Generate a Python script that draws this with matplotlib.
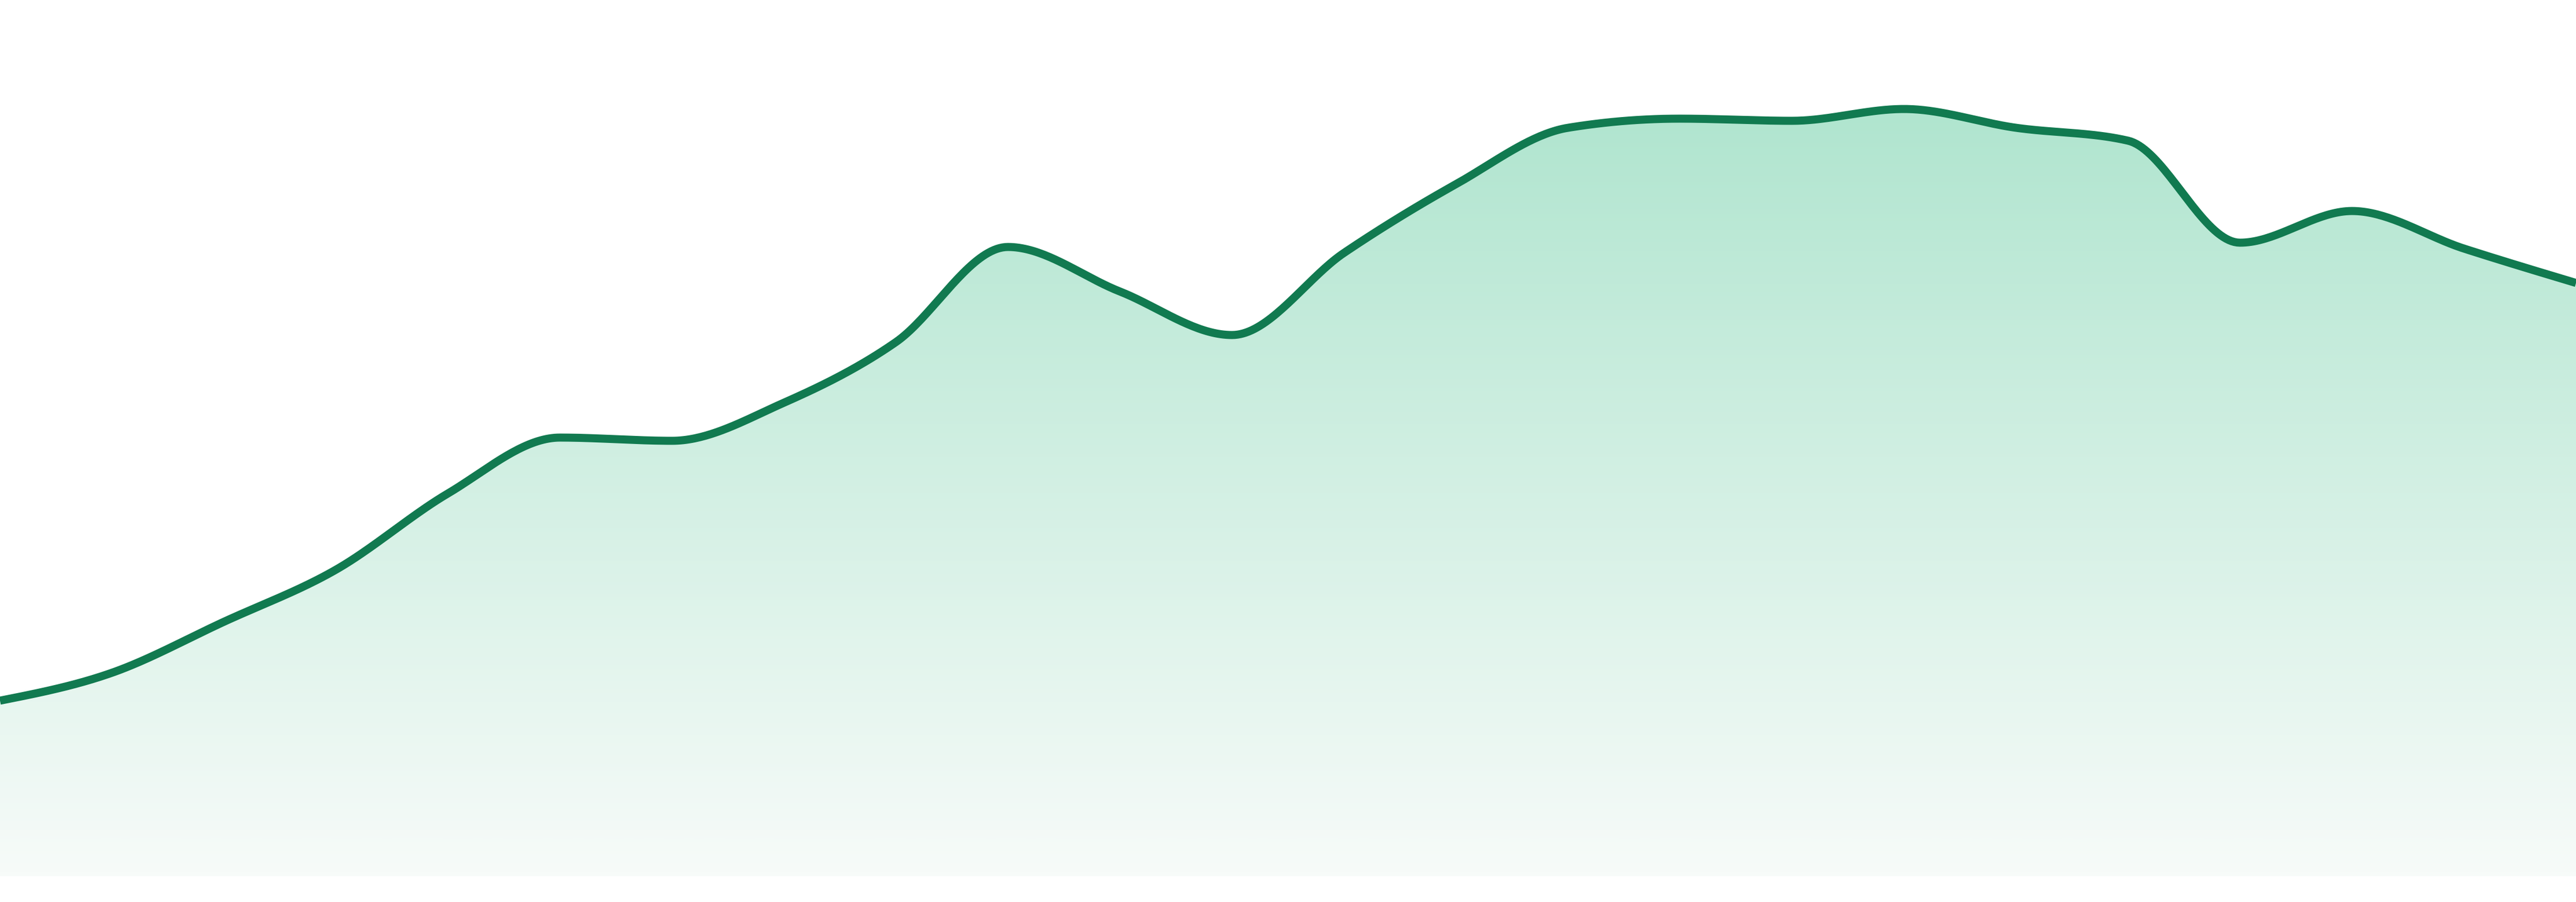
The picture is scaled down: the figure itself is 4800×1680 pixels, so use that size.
import matplotlib
matplotlib.use("Agg")
import matplotlib.pyplot as plt
import numpy as np
from matplotlib.colors import LinearSegmentedColormap
from matplotlib.patches import PathPatch
from matplotlib.path import Path

# values (0 = baseline of the area)
x_idx = np.arange(24)
values = [327, 379, 474, 571, 713, 817, 811, 882, 995, 1172, 1089, 1008,
          1161, 1289, 1394, 1411, 1407, 1429, 1394, 1370, 1180, 1239, 1169, 1105]

LINE_COLOR = "#117a50"
TOP_COLOR = "#b0e5cf"
BOTTOM_COLOR = "#f7fbf9"


def monotone_x(x, y, n=40):
    """d3.curveMonotoneX style smoothing, returns dense points"""
    x = np.asarray(x, float)
    y = np.asarray(y, float)
    h = np.diff(x)
    s = np.diff(y) / h
    t = np.zeros_like(y)
    for i in range(1, len(y) - 1):
        s0, s1 = s[i - 1], s[i]
        p = (s0 * h[i] + s1 * h[i - 1]) / (h[i - 1] + h[i])
        t[i] = (np.sign(s0) + np.sign(s1)) * min(abs(s0), abs(s1), 0.5 * abs(p))
    t[0] = (3 * s[0] - t[1]) / 2
    t[-1] = (3 * s[-1] - t[-2]) / 2
    xs, ys = [], []
    u = np.linspace(0, 1, n, endpoint=False)
    for i in range(len(x) - 1):
        dx = h[i] / 3
        p0 = np.array([x[i], y[i]])
        p1 = np.array([x[i] + dx, y[i] + dx * t[i]])
        p2 = np.array([x[i + 1] - dx, y[i + 1] - dx * t[i + 1]])
        p3 = np.array([x[i + 1], y[i + 1]])
        b = ((1 - u) ** 3)[:, None] * p0 + (3 * (1 - u) ** 2 * u)[:, None] * p1 \
            + (3 * (1 - u) * u ** 2)[:, None] * p2 + (u ** 3)[:, None] * p3
        xs.append(b[:, 0])
        ys.append(b[:, 1])
    xs.append([x[-1]])
    ys.append([y[-1]])
    return np.concatenate(xs), np.concatenate(ys)


fig = plt.figure(figsize=(16, 5.6), dpi=300)
ax = fig.add_axes([0, 0, 1, 1])
ax.set_xlim(0, 23)
ax.set_ylim(-48, 1632)
ax.axis("off")

sx, sy = monotone_x(x_idx, values)

# gradient area under the line
verts = np.column_stack([np.r_[sx, sx[-1], sx[0]], np.r_[sy, 0, 0]])
clip = PathPatch(Path(verts), facecolor="none", edgecolor="none")
ax.add_patch(clip)
cmap = LinearSegmentedColormap.from_list("area", [BOTTOM_COLOR, TOP_COLOR])
grad = np.linspace(0, 1, 256).reshape(-1, 1)
img = ax.imshow(grad, cmap=cmap, aspect="auto", origin="lower",
                extent=[0, 23, 0, max(values)], interpolation="bicubic")
img.set_clip_path(clip)

ax.plot(sx, sy, color=LINE_COLOR, lw=3.6, solid_capstyle="butt")

fig.savefig("out.png", dpi=300, facecolor="white")
